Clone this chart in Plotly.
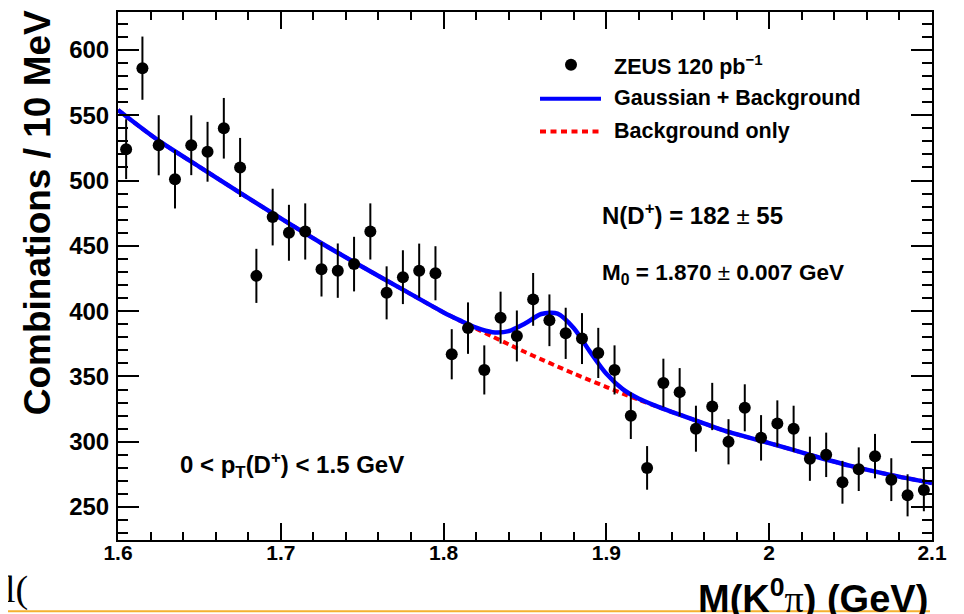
import plotly.graph_objects as go

# ---- data ----
bin_centers = [1.605, 1.615, 1.625, 1.635, 1.645, 1.655, 1.665, 1.675, 1.685, 1.695,
               1.705, 1.715, 1.725, 1.735, 1.745, 1.755, 1.765, 1.775, 1.785, 1.795,
               1.805, 1.815, 1.825, 1.835, 1.845, 1.855, 1.865, 1.875, 1.885, 1.895,
               1.905, 1.915, 1.925, 1.935, 1.945, 1.955, 1.965, 1.975, 1.985, 1.995,
               2.005, 2.015, 2.025, 2.035, 2.045, 2.055, 2.065, 2.075, 2.085, 2.095]
counts = [524, 586, 527, 501, 527, 522, 540, 510, 427, 472,
          460, 461, 432, 431, 436, 461, 414, 426, 431, 429,
          367, 387, 355, 395, 381, 409, 393, 383, 379, 368,
          355, 320, 280, 345, 338, 310, 327, 300, 326, 303,
          314, 310, 287, 290, 269, 279, 289, 271, 259, 263]
count_errors = [22.9, 24.2, 23.0, 22.4, 22.9, 22.9, 23.2, 22.6, 20.7, 21.7,
                21.4, 21.5, 20.8, 20.8, 20.9, 21.5, 20.3, 20.6, 20.7, 20.7,
                19.2, 19.7, 18.8, 19.9, 19.5, 20.2, 19.8, 19.6, 19.5, 19.2,
                18.8, 17.9, 16.7, 18.6, 18.4, 17.6, 18.1, 17.3, 18.0, 17.4,
                17.7, 17.6, 16.9, 17.0, 16.4, 16.7, 17.0, 16.4, 16.1, 16.2]

curve_x = [1.600, 1.625, 1.650, 1.675, 1.700, 1.725, 1.750, 1.775, 1.800, 1.810,
           1.820, 1.830, 1.840, 1.850, 1.860, 1.870, 1.880, 1.890, 1.900, 1.910,
           1.920, 1.930, 1.940, 1.950, 1.975, 2.000, 2.025, 2.050, 2.075, 2.100]
fit_total = [554, 530.5, 510.5, 490.5, 471, 452, 434, 416.5, 399, 392.9,
             387.3, 383.9, 384.7, 390.5, 397.8, 398.1, 386.9, 368.8, 352.0, 340.3,
             332.9, 327.6, 322.9, 318.5, 307.5, 299, 290, 281.5, 274.5, 268.5]
fit_background = [554, 530.5, 510.5, 490.5, 471, 452, 434, 416.5, 399, 392.7,
                  386.5, 380.5, 374.6, 368.7, 363.1, 357.6, 352.2, 347.0, 341.9, 336.9,
                  332.1, 327.5, 322.9, 318.5, 307.5, 299, 290, 281.5, 274.5, 268.5]

x_tick_vals = [1.6, 1.7, 1.8, 1.9, 2.0, 2.1]
x_tick_text = ["1.6", "1.7", "1.8", "1.9", "2", "2.1"]
y_tick_vals = [250, 300, 350, 400, 450, 500, 550, 600]
y_tick_text = ["250", "300", "350", "400", "450", "500", "550", "600"]

legend_labels = ["ZEUS 120 pb<sup>\u22121</sup>", "Gaussian + Background", "Background only"]

# ---- figure ----
FONT = "Liberation Sans, Arial, Helvetica, sans-serif"
OFF = 8                      # page body margin of the html page
W, H = 964 - OFF, 614 - OFF  # figure size
ML, MR, MT, MB = 118 - OFF, 32, 10 - OFF, 74
PW, PH = W - ML - MR, H - MT - MB


def px(x):
    """page x pixel -> paper coordinate"""
    return (x - OFF - ML) / PW


def py(y):
    """page y pixel -> paper coordinate"""
    return (H - MB - (y - OFF)) / PH


fig = go.Figure()

fig.add_trace(go.Scatter(
    x=curve_x, y=fit_background, mode="lines",
    line=dict(color="#ff0000", width=4, dash="6px,4px", shape="spline", smoothing=0.8),
    showlegend=False, hoverinfo="skip"))

fig.add_trace(go.Scatter(
    x=curve_x, y=fit_total, mode="lines",
    line=dict(color="#0000ff", width=4.5, shape="spline", smoothing=0.8),
    showlegend=False, hoverinfo="skip"))

fig.add_trace(go.Scatter(
    x=bin_centers, y=counts, mode="markers",
    marker=dict(color="black", size=12),
    error_y=dict(type="data", array=count_errors, visible=True,
                 color="black", thickness=2, width=0),
    showlegend=False))

axis_common = dict(
    showline=True, linewidth=2, linecolor="black", mirror="allticks",
    ticks="inside", tickcolor="black", tickwidth=1.5,
    showgrid=False, zeroline=False,
)

fig.update_xaxes(
    range=[1.6, 2.1], tickmode="array", tickvals=x_tick_vals, ticktext=x_tick_text,
    ticklen=17, ticklabelstandoff=-7,
    tickfont=dict(family=FONT, size=21, color="black", weight="bold"),
    minor=dict(ticks="inside", ticklen=8, tickwidth=1.5, tickcolor="black",
               tickmode="linear", tick0=1.6, dtick=0.02, showgrid=False),
    **axis_common)
fig.update_yaxes(
    range=[224.8, 629], tickmode="array", tickvals=y_tick_vals, ticktext=y_tick_text,
    ticklen=21, ticklabelstandoff=2,
    tickfont=dict(family=FONT, size=24, color="black", weight="bold"),
    minor=dict(ticks="inside", ticklen=10, tickwidth=1.5, tickcolor="black",
               tickmode="linear", tick0=0, dtick=10, showgrid=False),
    **axis_common)

annotations = []
bold = dict(color="black", weight="bold")

# axis titles
annotations.append(dict(
    text="Combinations / 10 MeV", textangle=-90, xref="paper", yref="paper",
    x=px(37.5), y=py(211.5), xanchor="center", yanchor="middle", showarrow=False,
    font=dict(family=FONT, size=37, **bold)))
annotations.append(dict(
    text="M(K<sup>0</sup><span style=\"font-family:'Liberation Serif';font-weight:normal\">\u03c0</span>) (GeV)",
    xref="paper", yref="paper", x=px(930), y=py(596), xanchor="right", yanchor="middle",
    showarrow=False, font=dict(family=FONT, size=38, **bold)))

# fit results / cuts
pm = "<span style=\"font-weight:normal\">\u00b1</span>"
annotations.append(dict(
    text="N(D<sup>+</sup>) = 182 " + pm + " 55", xref="paper", yref="paper",
    x=px(600), y=py(213), xanchor="left", yanchor="middle", showarrow=False,
    font=dict(family=FONT, size=24, **bold)))
annotations.append(dict(
    text="M<sub>0</sub> = 1.870 " + pm + " 0.007 GeV", xref="paper", yref="paper",
    x=px(600), y=py(273), xanchor="left", yanchor="middle", showarrow=False,
    font=dict(family=FONT, size=22.5, **bold)))
annotations.append(dict(
    text="0 &lt; p<sub>T</sub>(D<sup>+</sup>) &lt; 1.5 GeV", xref="paper", yref="paper",
    x=px(178), y=py(465), xanchor="left", yanchor="middle", showarrow=False,
    font=dict(family=FONT, size=24, **bold)))

# legend texts
for label, yc in zip(legend_labels, [63, 96, 129]):
    annotations.append(dict(
        text=label, xref="paper", yref="paper", x=px(612), y=py(yc),
        xanchor="left", yanchor="middle", showarrow=False,
        font=dict(family=FONT, size=21.5, **bold)))

# partial slide text at bottom-left
annotations.append(dict(
    text="l(", xref="paper", yref="paper", x=px(3), y=py(590),
    xanchor="left", yanchor="middle", showarrow=False,
    font=dict(family="Liberation Serif, Times New Roman, serif", size=38, color="black")))

shapes = [
    # legend marker
    dict(type="circle", xref="paper", yref="paper",
         x0=px(565), x1=px(577), y0=py(57), y1=py(69),
         fillcolor="black", line=dict(color="black", width=0)),
    # legend lines
    dict(type="line", xref="paper", yref="paper",
         x0=px(540), x1=px(601), y0=py(97), y1=py(97),
         line=dict(color="#0000ff", width=4)),
    dict(type="line", xref="paper", yref="paper",
         x0=px(540), x1=px(600), y0=py(130), y1=py(130),
         line=dict(color="#ff0000", width=4, dash="6px,4.5px")),
    # slide decoration line
    dict(type="line", xref="paper", yref="paper",
         x0=px(0), x1=px(930), y0=py(611.5), y1=py(611.5),
         line=dict(color="#f5b130", width=2)),
]

fig.update_layout(
    width=W, height=H, margin=dict(l=ML, r=MR, t=MT, b=MB, pad=0),
    paper_bgcolor="white", plot_bgcolor="white",
    showlegend=False, annotations=annotations, shapes=shapes,
    font=dict(family=FONT, color="black"),
)

fig.write_html("out.html")
